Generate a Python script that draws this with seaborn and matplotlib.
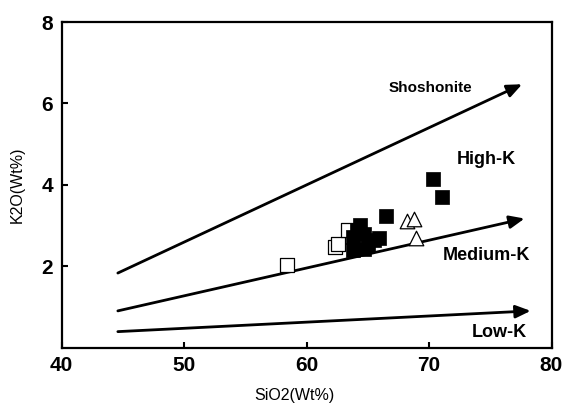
import matplotlib
matplotlib.use("Agg")
import matplotlib.pyplot as plt
import seaborn as sns

# ---- data ----
filled_sio2 = [64.4, 64.1, 63.8, 63.8, 65.5, 65.0, 64.7, 64.7, 65.9, 66.5, 70.3, 71.1]
filled_k2o = [3.02, 2.88, 2.71, 2.40, 2.63, 2.51, 2.42, 2.80, 2.68, 3.23, 4.15, 3.70]
open_sio2 = [58.4, 62.3, 62.6, 63.4]
open_k2o = [2.02, 2.48, 2.55, 2.88]
tri_sio2 = [68.2, 68.8, 68.9]
tri_k2o = [3.11, 3.17, 2.70]

boundary_names = ["Shoshonite", "High-K", "Medium-K", "Low-K"]
line_start_x = [44.6, 44.6, 44.6]
line_start_y = [1.83, 0.90, 0.39]
line_end_x = [77.6, 77.8, 78.3]
line_end_y = [6.47, 3.17, 0.90]
label_x = [70.1, 74.65, 74.7, 75.7]
label_y = [6.38, 4.61, 2.25, 0.36]
label_size = [11, 13, 13, 13]

x_ticks = [40, 50, 60, 70, 80]
y_ticks = [2, 4, 6, 8]

sns.set_theme(style="white")
plt.rcParams['font.family'] = ['Liberation Sans', 'DejaVu Sans']
plt.rcParams['text.color'] = 'black'
plt.rcParams['axes.labelcolor'] = 'black'
plt.rcParams['xtick.color'] = 'black'
plt.rcParams['ytick.color'] = 'black'

fig = plt.figure(figsize=(5.81, 4.05), dpi=100)
ax = fig.add_axes([61.5 / 581, (405 - 347.5) / 405, 490 / 581, 325.5 / 405])

for i in range(3):
    ax.annotate("", xy=(line_end_x[i], line_end_y[i]),
                xytext=(line_start_x[i], line_start_y[i]),
                arrowprops=dict(arrowstyle="-|>,head_length=0.75,head_width=0.32",
                                color="black", lw=2.0, shrinkA=0, shrinkB=0),
                zorder=2)

sns.scatterplot(x=open_sio2, y=open_k2o, marker="s", s=100, color="white",
                edgecolor="black", linewidth=0.9, ax=ax, zorder=3)
sns.scatterplot(x=filled_sio2, y=filled_k2o, marker="s", s=100, color="black",
                edgecolor="black", linewidth=0.5, ax=ax, zorder=4)
sns.scatterplot(x=tri_sio2, y=tri_k2o, marker="^", s=110, color="white",
                edgecolor="black", linewidth=0.9, ax=ax, zorder=5)

for name, lx, ly, fs in zip(boundary_names, label_x, label_y, label_size):
    ax.text(lx, ly, name, fontsize=fs, fontweight="bold", ha="center",
            va="center", color="black")

ax.set_xlim(40, 80)
ax.set_ylim(0, 8)
ax.set_xticks(x_ticks)
ax.set_yticks(y_ticks)
ax.set_xticklabels([str(t) for t in x_ticks], fontsize=15, fontweight="bold")
ax.set_yticklabels([str(t) for t in y_ticks], fontsize=15, fontweight="bold")
ax.tick_params(direction="in", length=4, width=1.5, left=True, bottom=True,
               top=False, right=False, pad=6)
for sp in ax.spines.values():
    sp.set_linewidth(1.6)
    sp.set_color("black")
ax.set_xlabel("SiO2(Wt%)", fontsize=11.5, labelpad=12)
ax.xaxis.set_label_coords(0.475, -0.125)
ax.set_ylabel("K2O(Wt%)", fontsize=11.5, labelpad=12)

fig.savefig("out.png", dpi=100)
